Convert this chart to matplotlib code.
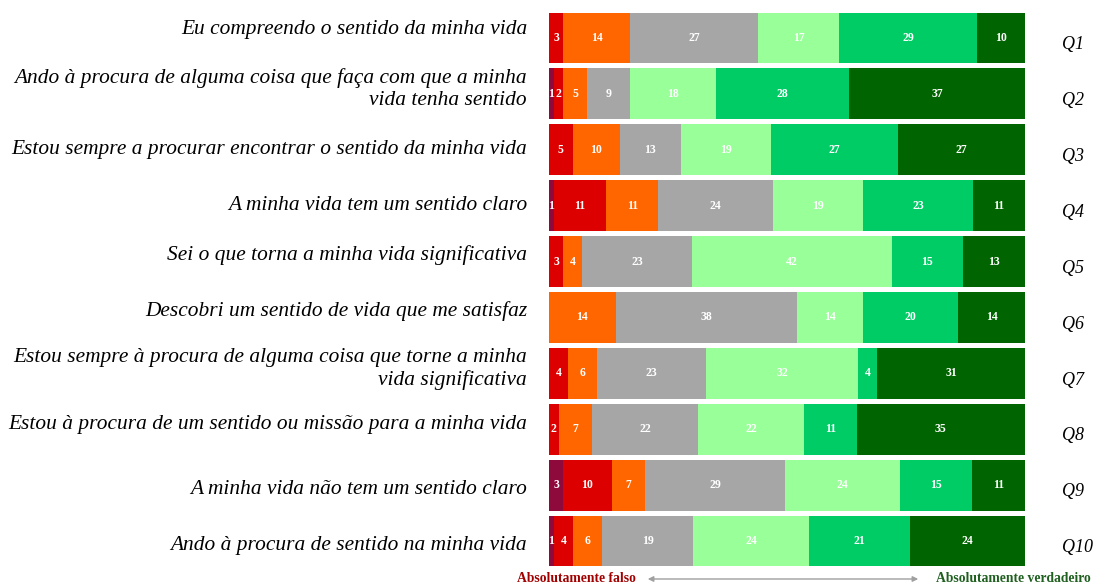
import numpy as np
import matplotlib
matplotlib.use("Agg")
import matplotlib.pyplot as plt

# -------------------------------
# Data (percentages per answer level, 1 = absolutamente falso ... 7 = absolutamente verdadeiro)
# -------------------------------
questions = [
    "Eu compreendo o sentido da minha vida",
    "Ando à procura de alguma coisa que faça com que a minha\nvida tenha sentido",
    "Estou sempre a procurar encontrar o sentido da minha vida",
    "A minha vida tem um sentido claro",
    "Sei o que torna a minha vida significativa",
    "Descobri um sentido de vida que me satisfaz",
    "Estou sempre à procura de alguma coisa que torne a minha\nvida significativa",
    "Estou à procura de um sentido ou missão para a minha vida",
    "A minha vida não tem um sentido claro",
    "Ando à procura de sentido na minha vida",
]
codes = ["Q1", "Q2", "Q3", "Q4", "Q5", "Q6", "Q7", "Q8", "Q9", "Q10"]

level1 = [0, 1, 0, 1, 0, 0, 0, 0, 3, 1]
level2 = [3, 2, 5, 11, 3, 0, 4, 2, 10, 4]
level3 = [14, 5, 10, 11, 4, 14, 6, 7, 7, 6]
level4 = [27, 9, 13, 24, 23, 38, 23, 22, 29, 19]
level5 = [17, 18, 19, 19, 42, 14, 32, 22, 24, 24]
level6 = [29, 28, 27, 23, 15, 20, 4, 11, 15, 21]
level7 = [10, 37, 27, 11, 13, 14, 31, 35, 11, 24]

levels = [level1, level2, level3, level4, level5, level6, level7]
colors = ["#8E0A3C", "#DD0000", "#FF6600", "#A6A6A6", "#99FF99", "#00CC66", "#006400"]

# small vertical nudges (pixels) of the question texts, as in the original slide
label_dy_px = [-8, -5, 0, 0, -7, -6, -4, -5, 4, 4]

# -------------------------------
# Plot
# -------------------------------
fig = plt.figure(figsize=(10.96, 5.86), dpi=100)
ax = fig.add_axes([549 / 1096, 1 - 569 / 586, (1025 - 549) / 1096, 559 / 586])
row_px = 559 / len(questions)

data = np.array(levels, dtype=float)
totals = data.sum(axis=0)
shares = data / totals * 100

y = np.arange(len(questions))
left = np.zeros(len(questions))
for vals, share, col in zip(levels, shares, colors):
    ax.barh(y, share, left=left, height=0.91, color=col, edgecolor="none")
    for i, (v, s) in enumerate(zip(vals, share)):
        if v > 0:
            ax.text(left[i] + s / 2, y[i], str(v), ha="center", va="center",
                    color="white", fontsize=8.5, fontweight="bold", family="Liberation Serif")
    left += share

ax.set_xlim(0, 100)
ax.set_ylim(len(questions) - 0.5, -0.5)
ax.axis("off")

for i, (q, c) in enumerate(zip(questions, codes)):
    ax.text(-4.6, y[i] + label_dy_px[i] / row_px, q, ha="right", va="center",
            fontsize=15.4, style="italic", family="Liberation Serif", linespacing=1.22)
    ax.text(107.8, y[i] + 0.12, c, ha="left", va="center", fontsize=13, style="italic",
            family="Liberation Serif")

# bottom scale annotation
fig.text(576 / 1096, 1 - 579 / 586, "Absolutamente falso", ha="center", va="center",
         color="#A00000", fontsize=9.8, fontweight="bold", family="Liberation Serif")
fig.text(1013 / 1096, 1 - 579 / 586, "Absolutamente verdadeiro", ha="center", va="center",
         color="#1F5F1F", fontsize=9.8, fontweight="bold", family="Liberation Serif")
fig.add_artist(matplotlib.patches.FancyArrowPatch(
    (645 / 1096, 1 - 579 / 586), (921 / 1096, 1 - 579 / 586), transform=fig.transFigure,
    arrowstyle="<|-|>", mutation_scale=8, color="#A0A0A0", lw=1))

fig.savefig("out.png", dpi=100)
